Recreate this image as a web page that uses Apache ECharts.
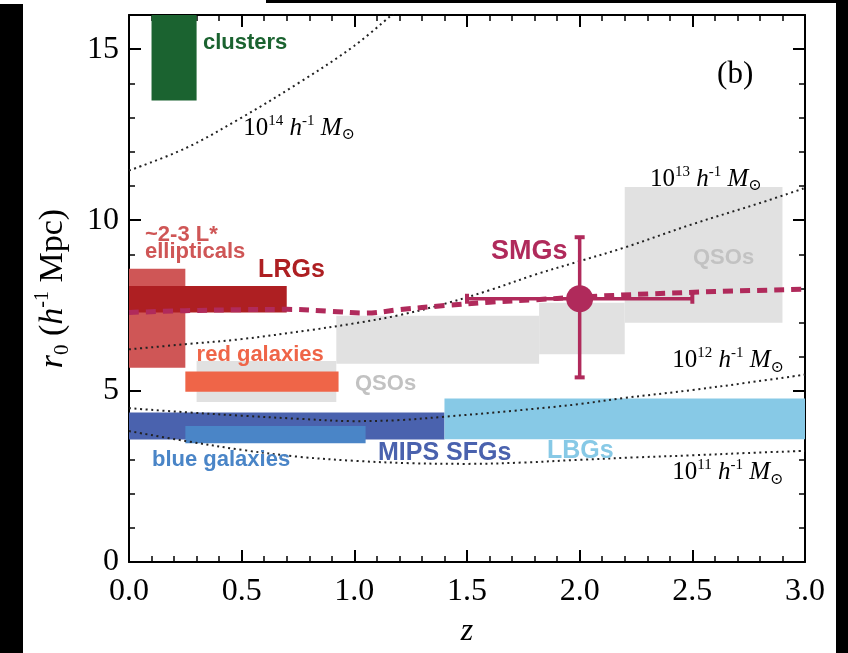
<!DOCTYPE html>
<html><head><meta charset="utf-8">
<script src="https://cdn.jsdelivr.net/npm/echarts@6/dist/echarts.min.js"></script>
<style>html,body{margin:0;padding:0;background:#fff}#c{width:848px;height:653px}</style>
</head><body><div id="c"></div>
<script>
// ---------------- data ----------------
const xTickLabels = ['0.0', '0.5', '1.0', '1.5', '2.0', '2.5', '3.0'];
const yTickLabels = ['0', '5', '10', '15'];

// boxes: [zMin, zMax, r0Min, r0Max]
const qsoLowBox     = [0.30, 0.92, 4.68, 5.88];
const qsoMidBoxA    = [0.92, 1.82, 5.80, 7.20];
const qsoMidBoxB    = [1.82, 2.20, 6.08, 7.58];
const qsoHighBox    = [2.20, 2.90, 7.00, 10.97];
const clustersBox   = [0.10, 0.30, 13.50, 16.00];
const ellipticalsBox= [0.00, 0.25, 5.68, 8.58];
const lrgBox        = [0.00, 0.70, 7.30, 8.07];
const redGalBox     = [0.25, 0.93, 4.98, 5.57];
const mipsBox       = [0.00, 1.40, 3.58, 4.37];
const blueGalBox    = [0.25, 1.05, 3.47, 3.98];
const lbgBox        = [1.40, 3.00, 3.59, 4.78];

// halo-mass tracks (dotted)
const halo14Z = [0, 0.25, 0.5, 0.75, 1.0, 1.2];
const halo14R = [11.45, 12.1, 13.0, 14.0, 15.1, 16.2];
const halo13Z = [0, 0.25, 0.5, 0.8, 1.0, 1.2, 1.4, 1.6, 1.8, 2.0, 2.2, 2.5, 2.8, 3.0];
const halo13R = [6.22, 6.37, 6.52, 6.78, 6.98, 7.22, 7.55, 7.95, 8.4, 8.8, 9.2, 9.88, 10.5, 10.94];
const halo12Z = [0, 0.25, 0.5, 0.75, 1.0, 1.2, 1.4, 1.7, 2.0, 2.2, 2.5, 2.75, 3.0];
const halo12R = [4.5, 4.38, 4.28, 4.19, 4.12, 4.15, 4.25, 4.42, 4.62, 4.8, 5.03, 5.25, 5.48];
const halo11Z = [0, 0.25, 0.5, 0.75, 1.0, 1.25, 1.5, 1.75, 2.0, 2.25, 2.5, 2.75, 3.0];
const halo11R = [3.83, 3.54, 3.28, 3.08, 2.96, 2.89, 2.87, 2.91, 2.99, 3.06, 3.12, 3.19, 3.25];

// SMG halo track (dashed)
const smgTrackZ = [0, 0.25, 0.5, 0.7, 0.9, 1.05, 1.2, 1.4, 1.6, 1.8, 2.0, 2.3, 2.6, 3.0];
const smgTrackR = [7.30, 7.35, 7.38, 7.39, 7.33, 7.28, 7.38, 7.50, 7.60, 7.67, 7.75, 7.84, 7.91, 7.98];

// SMG measurement
const smgZ = 2.0;
const smgR = 7.7;
const smgZErr = [1.5, 2.5];
const smgRErr = [5.4, 9.5];

// text annotations: [text, z, r0, style key]
const annotations = [
  ['clusters', 0.328, 15.18, 'clusters'],
  ['~2-3 L*', 0.071, 9.58, 'ellipticals'],
  ['ellipticals', 0.071, 9.08, 'ellipticals'],
  ['LRGs', 0.573, 8.53, 'lrg'],
  ['SMGs', 1.607, 9.08, 'smg'],
  ['QSOs', 2.503, 8.90, 'qso'],
  ['red galaxies', 0.300, 6.07, 'red'],
  ['QSOs', 1.003, 5.20, 'qso'],
  ['blue galaxies', 0.102, 2.98, 'blue'],
  ['MIPS SFGs', 1.105, 3.18, 'mips'],
  ['LBGs', 1.855, 3.24, 'lbg']
];
// halo labels: [exponent, z, r0]
const haloLabels = [
  ['14', 0.507, 12.69],
  ['13', 2.312, 11.20],
  ['12', 2.411, 5.89],
  ['11', 2.411, 2.62]
];
const panelLabel = ['(b)', 2.69, 14.25];

// ---------------- styles ----------------
const SERIF = '"Liberation Serif","Times New Roman","DejaVu Serif",serif';
const SANS = '"Liberation Sans",Arial,Helvetica,sans-serif';
const C = {
  gray: '#e1e1e1', qso: '#c2c2c2', clusters: '#1b6330', ellipticals: '#cf5656',
  lrg: '#ae1f22', red: '#ef6548', mips: '#4a62ae', blue: '#4a85c7', lbg: '#87c9e6', smg: '#b02a5b'
};
const labelFont = {
  clusters: [C.clusters, 22], ellipticals: [C.ellipticals, 22], lrg: [C.lrg, 25], smg: [C.smg, 27],
  qso: [C.qso, 22], red: [C.red, 22], blue: [C.blue, 22], mips: [C.mips, 25], lbg: [C.lbg, 25]
};

function boxSeries(box, color, z) {
  return {
    type: 'custom', silent: true, z: z, clip: true,
    data: [box],
    encode: { x: [0, 1], y: [2, 3] },
    renderItem: function (params, api) {
      const p0 = api.coord([api.value(0), api.value(3)]);
      const p1 = api.coord([api.value(1), api.value(2)]);
      return { type: 'rect', shape: { x: p0[0], y: p0[1], width: p1[0] - p0[0], height: p1[1] - p0[1] }, style: { fill: color } };
    }
  };
}
function zip(a, b) { return a.map((v, i) => [v, b[i]]); }
function dottedSeries(zs, rs) {
  return {
    type: 'line', silent: true, z: 5, symbol: 'none', smooth: 0.35, clip: true,
    data: zip(zs, rs),
    lineStyle: { color: '#222', width: 2, type: [2, 3.6] }
  };
}

const rich = {
  n: { fontFamily: SERIF, fontSize: 25, lineHeight: 30, color: '#000' },
  i: { fontFamily: SERIF, fontSize: 25, lineHeight: 30, fontStyle: 'italic', color: '#000' },
  sp: { fontFamily: SERIF, fontSize: 15, lineHeight: 16, verticalAlign: 'top', color: '#000' },
  sb: { fontFamily: SERIF, fontSize: 16, lineHeight: 10, verticalAlign: 'bottom', color: '#000' }
};

const annotationData = annotations.map(a => ({
  value: [a[1], a[2]],
  label: { formatter: a[0], color: labelFont[a[3]][0], fontSize: labelFont[a[3]][1] }
}));
const haloLabelData = haloLabels.map(h => ({
  value: [h[1], h[2]],
  label: { formatter: '{n|10}{sp|' + h[0] + '} {i|h}{sp|-1} {i|M}{sb|\u2299}' }
}));

const axisCommon = {
  type: 'value', min: 0, max: 3, interval: 0.5,
  axisLine: { show: true, onZero: false, lineStyle: { color: '#000', width: 2 } },
  axisTick: { show: true, inside: true, length: 12, lineStyle: { color: '#000', width: 2 } },
  minorTick: { show: true, splitNumber: 5, length: 6, lineStyle: { color: '#000', width: 1.5 } },
  splitLine: { show: false }, minorSplitLine: { show: false }
};
const yCommon = {
  type: 'value', min: 0, max: 16, interval: 5,
  axisLine: { show: true, onZero: false, lineStyle: { color: '#000', width: 2 } },
  axisTick: { show: true, inside: true, length: 12, lineStyle: { color: '#000', width: 2 } },
  minorTick: { show: true, splitNumber: 5, length: 6, lineStyle: { color: '#000', width: 1.5 } },
  splitLine: { show: false }, minorSplitLine: { show: false }
};

const option = {
  animation: false,
  backgroundColor: '#fff',
  grid: { left: 129, right: 43, top: 15, bottom: 90 },
  xAxis: [
    Object.assign({}, axisCommon, {
      position: 'bottom',
      axisLabel: { margin: 14, fontFamily: SERIF, fontSize: 32, color: '#000',
        formatter: v => xTickLabels[Math.round(v / 0.5)] },
      name: 'z', nameLocation: 'middle', nameGap: 54,
      nameTextStyle: { fontFamily: SERIF, fontStyle: 'italic', fontSize: 32, color: '#000' }
    }),
    Object.assign({}, axisCommon, { position: 'top', axisLabel: { show: false } })
  ],
  yAxis: [
    Object.assign({}, yCommon, {
      position: 'left',
      axisLabel: { margin: 10, fontFamily: SERIF, fontSize: 32, color: '#000',
        formatter: v => (v % 5 === 0 ? yTickLabels[v / 5] : '') },
      name: '{i|r}{sb|0} ({i|h}{sp|-1} Mpc)', nameLocation: 'middle', nameGap: 56,
      nameTextStyle: { fontFamily: SERIF, fontSize: 34, color: '#000', rich: {
        i: { fontFamily: SERIF, fontSize: 34, lineHeight: 40, fontStyle: 'italic', color: '#000' },
        sp: { fontFamily: SERIF, fontSize: 20, lineHeight: 22, verticalAlign: 'top', color: '#000' },
        sb: { fontFamily: SERIF, fontSize: 21, lineHeight: 14, verticalAlign: 'bottom', color: '#000' }
      } }
    }),
    Object.assign({}, yCommon, { position: 'right', axisLabel: { show: false } })
  ],
  graphic: [
    { type: 'rect', left: 0, top: 4, shape: { width: 23, height: 649 }, style: { fill: '#000' }, z: 100 },
    { type: 'rect', left: 266, top: 0, shape: { width: 570, height: 3 }, style: { fill: '#000' }, z: 100 },
    { type: 'rect', left: 836, top: 0, shape: { width: 12, height: 653 }, style: { fill: '#000' }, z: 100 }
  ],
  series: [
    boxSeries(qsoLowBox, C.gray, 1),
    boxSeries(qsoMidBoxA, C.gray, 1),
    boxSeries(qsoMidBoxB, C.gray, 1),
    boxSeries(qsoHighBox, C.gray, 1),
    boxSeries(clustersBox, C.clusters, 2),
    boxSeries(ellipticalsBox, C.ellipticals, 2),
    boxSeries(lrgBox, C.lrg, 3),
    boxSeries(redGalBox, C.red, 3),
    boxSeries(mipsBox, C.mips, 2),
    boxSeries(blueGalBox, C.blue, 3),
    boxSeries(lbgBox, C.lbg, 2),
    dottedSeries(halo14Z, halo14R),
    dottedSeries(halo13Z, halo13R),
    dottedSeries(halo12Z, halo12R),
    dottedSeries(halo11Z, halo11R),
    {
      type: 'line', silent: true, z: 6, symbol: 'none', smooth: 0.35,
      data: zip(smgTrackZ, smgTrackR),
      lineStyle: { color: C.smg, width: 5, type: [10, 7] }
    },
    {
      type: 'custom', silent: true, z: 7,
      data: [[smgZ, smgR, smgZErr[0], smgZErr[1], smgRErr[0], smgRErr[1]]],
      encode: { x: [0, 2, 3], y: [1, 4, 5] },
      renderItem: function (params, api) {
        const c = api.coord([api.value(0), api.value(1)]);
        const xl = api.coord([api.value(2), api.value(1)]);
        const xr = api.coord([api.value(3), api.value(1)]);
        const yb = api.coord([api.value(0), api.value(4)]);
        const yt = api.coord([api.value(0), api.value(5)]);
        const st = { stroke: C.smg, lineWidth: 3.5 };
        const cap = 5;
        return { type: 'group', children: [
          { type: 'line', shape: { x1: xl[0], y1: c[1], x2: xr[0], y2: c[1] }, style: st },
          { type: 'line', shape: { x1: c[0], y1: yb[1], x2: c[0], y2: yt[1] }, style: st },
          { type: 'line', shape: { x1: xl[0], y1: c[1] - cap, x2: xl[0], y2: c[1] + cap }, style: { stroke: C.smg, lineWidth: 4 } },
          { type: 'line', shape: { x1: xr[0], y1: c[1] - cap, x2: xr[0], y2: c[1] + cap }, style: { stroke: C.smg, lineWidth: 4 } },
          { type: 'line', shape: { x1: c[0] - cap, y1: yb[1], x2: c[0] + cap, y2: yb[1] }, style: { stroke: C.smg, lineWidth: 4 } },
          { type: 'line', shape: { x1: c[0] - cap, y1: yt[1], x2: c[0] + cap, y2: yt[1] }, style: { stroke: C.smg, lineWidth: 4 } }
        ] };
      }
    },
    {
      type: 'scatter', silent: true, z: 8, symbol: 'circle', symbolSize: 27,
      itemStyle: { color: C.smg, opacity: 1 },
      data: [[smgZ, smgR]]
    },
    {
      type: 'scatter', silent: true, z: 9, symbolSize: 0, itemStyle: { opacity: 1 },
      label: { show: true, position: [0, 0], align: 'left', verticalAlign: 'middle',
        fontFamily: SANS, fontWeight: 'bold' },
      data: annotationData
    },
    {
      type: 'scatter', silent: true, z: 9, symbolSize: 0, itemStyle: { opacity: 1 },
      label: { show: true, position: [0, 0], align: 'left', verticalAlign: 'middle',
        fontFamily: SERIF, fontSize: 25, color: '#000', rich: rich },
      data: haloLabelData
    },
    {
      type: 'scatter', silent: true, z: 9, symbolSize: 0, itemStyle: { opacity: 1 },
      label: { show: true, position: [0, 0], align: 'center', verticalAlign: 'middle',
        fontFamily: SERIF, fontSize: 31, color: '#000', formatter: panelLabel[0] },
      data: [[panelLabel[1], panelLabel[2]]]
    }
  ]
};
const chart = echarts.init(document.getElementById('c'), null, { renderer: 'canvas' });
chart.setOption(option);
</script></body></html>
